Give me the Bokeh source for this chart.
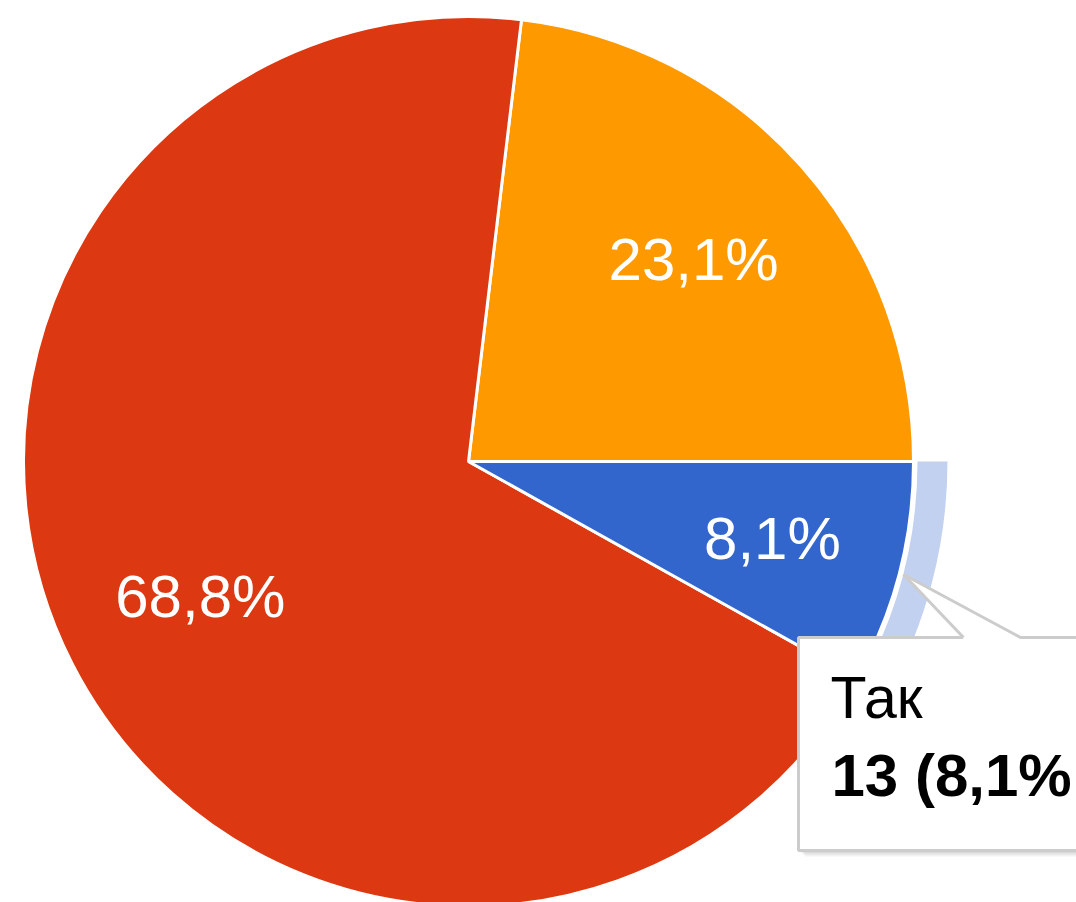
import math
from bokeh.plotting import figure
from bokeh.models import Range1d, ColumnDataSource
from bokeh.core.properties import value
from bokeh.embed import file_html
from bokeh.resources import INLINE

# ---- data ----
categories = ["Ні", "Інше", "Так"]
percents = [23.1, 68.8, 8.1]
counts = [37, 110, 13]
labels = ["23,1%", "68,8%", "8,1%"]
colors = ["#ff9900", "#dc3912", "#3366cc"]
tooltip_title = "Так"
tooltip_value = "13 (8,1%"

# ---- layout (pixel-like data space; data y = 902 - screen y) ----
W, H = 1076, 902
CX, CY = 468, 902 - 461
R = 445
label_r = [301, 301, 314]

p = figure(width=W, height=H, output_backend="svg", toolbar_location=None,
           x_range=Range1d(0, W), y_range=Range1d(902 - H, 902),
           min_border=0)
p.axis.visible = False
p.grid.visible = False
p.outline_line_color = None
p.background_fill_color = "white"
p.border_fill_color = "white"

total = sum(percents)
starts, ends, lx, ly = [], [], [], []
acc = 0.0
for i, v in enumerate(percents):
    a0 = acc / total * 2 * math.pi
    acc += v
    a1 = acc / total * 2 * math.pi
    starts.append(a0)
    ends.append(a1)
    mid = (a0 + a1) / 2
    lx.append(CX + label_r[i] * math.cos(mid))
    ly.append(CY + label_r[i] * math.sin(mid))

src = ColumnDataSource(dict(start=starts, end=ends, color=colors, lx=lx, ly=ly, label=labels))

p.wedge(x=CX, y=CY, radius=R, start_angle="start", end_angle="end", direction="anticlock",
        fill_color="color", line_color="white", line_width=3, source=src)

# hover ring on the highlighted slice
hi = 2
p.annular_wedge(x=CX, y=CY, inner_radius=R + 4, outer_radius=R + 34,
                start_angle=starts[hi], end_angle=ends[hi], direction="anticlock",
                fill_color="#c2d1f0", line_color=None)

p.text(x="lx", y="ly", text="label", source=src, text_color="white",
       text_font=value("Liberation Sans"), text_font_size="60px",
       text_align="center", text_baseline="alphabetic", y_offset=-2)

# ---- tooltip ----
bx0, bx1 = 798, 1100
by_top, by_bot = 902 - 637, 902 - 850
# shadow
for k, a in [(6, 0.05), (4, 0.06), (2, 0.08)]:
    p.quad(left=bx0 + k, right=bx1 + k, top=by_top - k, bottom=by_bot - k,
           fill_color="black", fill_alpha=a, line_color=None)
p.quad(left=bx0, right=bx1, top=by_top, bottom=by_bot,
       fill_color="white", line_color="#cccccc", line_width=3)
tip = (903, 902 - 574)
pl, pr = (963, by_top), (1020, by_top)
p.patch(x=[pl[0], tip[0], pr[0]], y=[pl[1] - 1.5, tip[1], pr[1] - 1.5],
        fill_color="white", line_color=None)
p.line(x=[pl[0], tip[0]], y=[pl[1], tip[1]], line_color="#cccccc", line_width=3)
p.line(x=[tip[0], pr[0]], y=[tip[1], pr[1]], line_color="#cccccc", line_width=3)

p.text(x=[830], y=[902 - 720], text=[tooltip_title], text_color="black",
       text_font=value("Liberation Sans"), text_font_size="59px",
       text_align="left", text_baseline="alphabetic", y_offset=-23)
p.text(x=[831], y=[902 - 799], text=[tooltip_value], text_color="black",
       text_font=value("Liberation Sans"), text_font_size="60px", text_font_style="bold",
       text_align="left", text_baseline="alphabetic", y_offset=-24)

open("out.html", "w").write(file_html(p, INLINE))
